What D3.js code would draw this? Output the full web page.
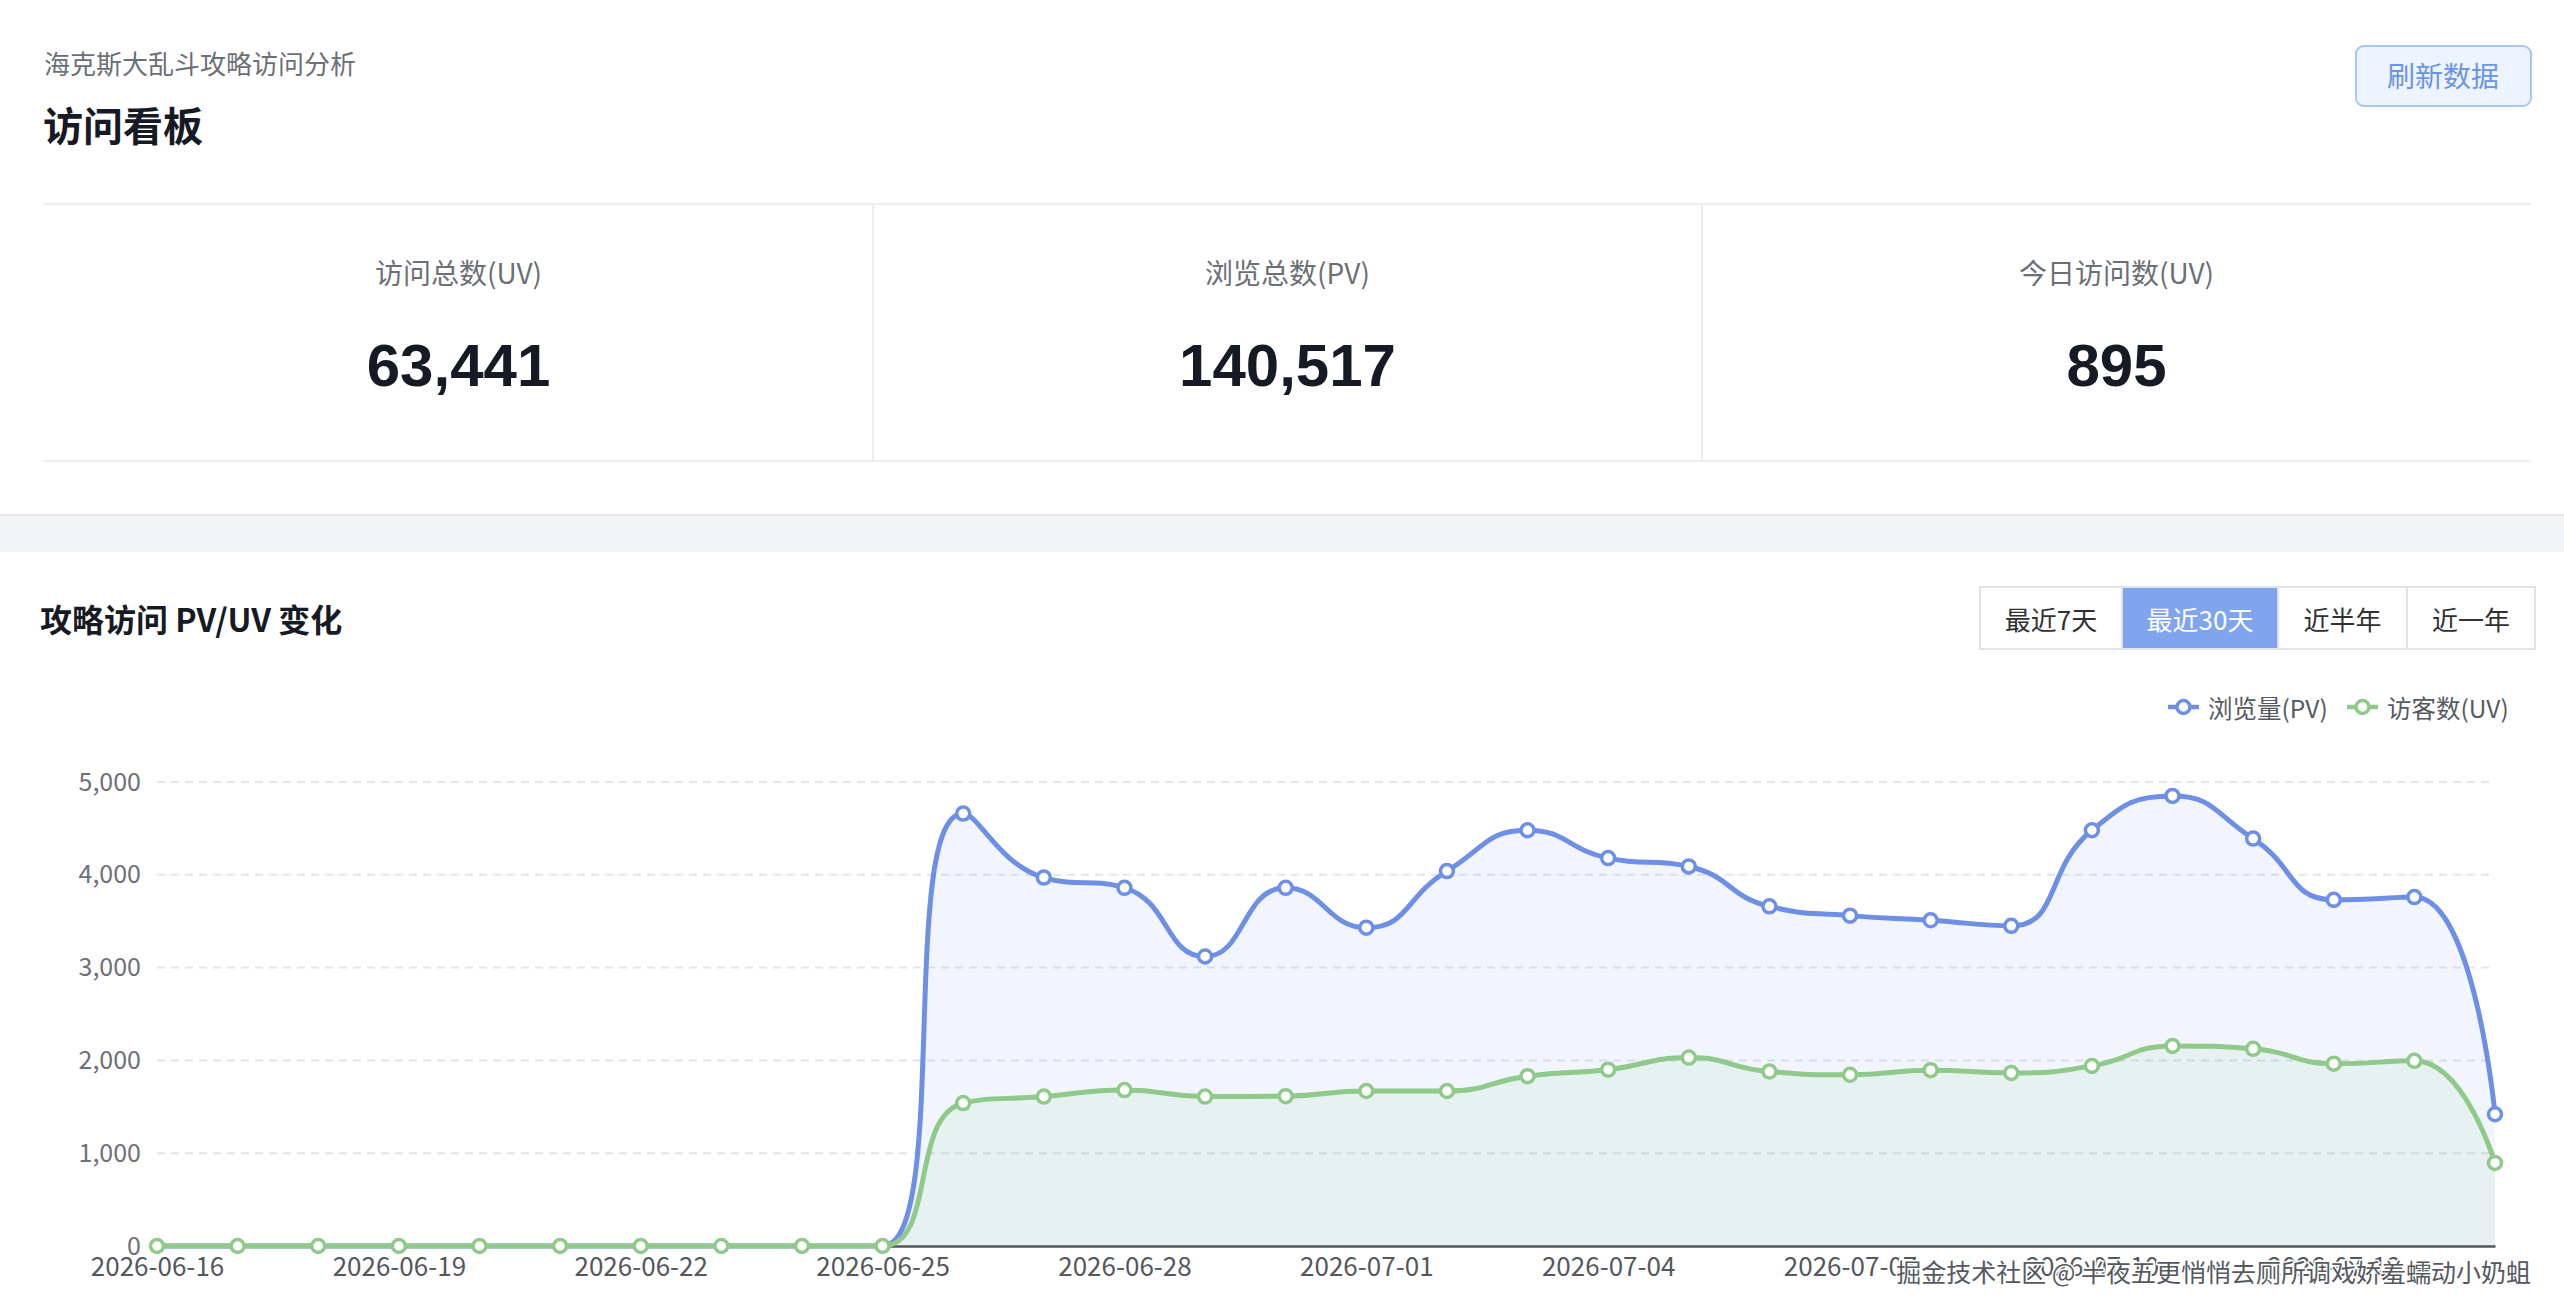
<!DOCTYPE html>
<html>
<head>
<meta charset="utf-8">
<script src="https://cdn.jsdelivr.net/npm/d3@7"></script>
<style>
  html, body { margin: 0; padding: 0; background: #fff; }
  svg { display: block; }
  text { font-family: "Noto Sans CJK SC", "Noto Sans", sans-serif; }
</style>
</head>
<body>
<svg id="page" width="2564" height="1316"></svg>
<script>
// ---- data ----
const pageSubtitle = "海克斯大乱斗攻略访问分析";
const pageTitle = "访问看板";
const statLabels = ["访问总数(UV)", "浏览总数(PV)", "今日访问数(UV)"];
const statValues = [63441, 140517, 895];
const rangeOptions = ["最近7天", "最近30天", "近半年", "近一年"];
const activeRange = "最近30天";
const seriesNames = ["浏览量(PV)", "访客数(UV)"];

const dates = [
  "2026-06-16", "2026-06-17", "2026-06-18", "2026-06-19", "2026-06-20",
  "2026-06-21", "2026-06-22", "2026-06-23", "2026-06-24", "2026-06-25",
  "2026-06-26", "2026-06-27", "2026-06-28", "2026-06-29", "2026-06-30",
  "2026-07-01", "2026-07-02", "2026-07-03", "2026-07-04", "2026-07-05",
  "2026-07-06", "2026-07-07", "2026-07-08", "2026-07-09", "2026-07-10",
  "2026-07-11", "2026-07-12", "2026-07-13", "2026-07-14", "2026-07-15"
];
const pvValues = [0, 0, 0, 0, 0, 0, 0, 0, 0, 0,
  4660, 3970, 3860, 3120, 3860, 3430, 4040, 4480, 4180, 4090,
  3660, 3560, 3510, 3450, 4480, 4850, 4390, 3730, 3760, 1420];
const uvValues = [0, 0, 0, 0, 0, 0, 0, 0, 0, 0,
  1540, 1610, 1680, 1610, 1615, 1670, 1670, 1830, 1900, 2030,
  1880, 1845, 1895, 1865, 1940, 2155, 2125, 1965, 1995, 895];
const yTicks = [0, 1000, 2000, 3000, 4000, 5000];
const watermark = "掘金技术社区 @ 半夜五更悄悄去厕所调戏娇羞蠕动小奶蛆";

// ---- colours ----
const pvColor = "#6e8fe6";
const uvColor = "#8fca8a";

const svg = d3.select("#page");
const W = 2564, H = 1316;
const fmt = d3.format(",");

svg.append("rect").attr("width", W).attr("height", H).attr("fill", "#fff");

// --------------------------------------------------
// header card
// --------------------------------------------------
svg.append("text").attr("x", 44).attr("y", 62)
  .attr("dominant-baseline", "central")
  .style("font-size", "26px").style("fill", "#6b6f76")
  .text(pageSubtitle);

svg.append("text").attr("x", 43).attr("y", 124)
  .attr("dominant-baseline", "central")
  .style("font-size", "40px").style("font-weight", 700).style("fill", "#161a25")
  .text(pageTitle);

// refresh button
svg.append("rect").attr("x", 2356).attr("y", 46).attr("width", 175).attr("height", 60)
  .attr("rx", 8).attr("fill", "#edf4ff").attr("stroke", "#a8c6f3").attr("stroke-width", 2);
svg.append("text").attr("x", 2443).attr("y", 75)
  .attr("text-anchor", "middle").attr("dominant-baseline", "central")
  .style("font-size", "28px").style("fill", "#6b93e6")
  .text("刷新数据");

// stat row
const statX = d3.scaleBand().domain(statLabels).range([44, 2531]);
svg.append("line").attr("x1", 44).attr("x2", 2531).attr("y1", 204).attr("y2", 204)
  .attr("stroke", "#ebedf1").attr("stroke-width", 2);
svg.append("line").attr("x1", 44).attr("x2", 2531).attr("y1", 461).attr("y2", 461)
  .attr("stroke", "#ebedf1").attr("stroke-width", 2);
svg.selectAll("line.divider")
  .data(statLabels.slice(1))
  .enter().append("line")
  .attr("class", "divider")
  .attr("x1", d => statX(d)).attr("x2", d => statX(d))
  .attr("y1", 205).attr("y2", 460)
  .attr("stroke", "#ebedf1").attr("stroke-width", 2);

svg.selectAll("text.stat-label")
  .data(statLabels)
  .enter().append("text")
  .attr("class", "stat-label")
  .attr("x", d => statX(d) + statX.bandwidth() / 2)
  .attr("y", 272)
  .attr("text-anchor", "middle").attr("dominant-baseline", "central")
  .style("font-size", "28px").style("fill", "#6b6f76")
  .text(d => d);

svg.selectAll("text.stat-value")
  .data(statValues)
  .enter().append("text")
  .attr("class", "stat-value")
  .attr("x", (d, i) => statX(statLabels[i]) + statX.bandwidth() / 2)
  .attr("y", 365)
  .attr("text-anchor", "middle").attr("dominant-baseline", "central")
  .style("font-family", "'Liberation Sans', Arial, sans-serif")
  .style("font-size", "60px").style("font-weight", 700).style("fill", "#161a25")
  .text(d => fmt(d));

// grey gap between cards
svg.append("rect").attr("x", 0).attr("y", 514).attr("width", W).attr("height", 37)
  .attr("fill", "#f2f3f5");
svg.append("line").attr("x1", 0).attr("x2", W).attr("y1", 515).attr("y2", 515)
  .attr("stroke", "#e3e5e9").attr("stroke-width", 2);
svg.append("line").attr("x1", 0).attr("x2", W).attr("y1", 551).attr("y2", 551)
  .attr("stroke", "#e9ebee").attr("stroke-width", 1);

// --------------------------------------------------
// chart card
// --------------------------------------------------
svg.append("text").attr("x", 40).attr("y", 618)
  .attr("dominant-baseline", "central")
  .style("font-size", "32px").style("font-weight", 700).style("fill", "#161a25")
  .text("攻略访问 PV/UV 变化");

// range switch
const segEdges = [1980, 2122, 2278, 2407, 2535];
const seg = svg.append("g");
seg.selectAll("rect")
  .data(rangeOptions)
  .enter().append("rect")
  .attr("x", (d, i) => segEdges[i]).attr("y", 587)
  .attr("width", (d, i) => segEdges[i + 1] - segEdges[i]).attr("height", 62)
  .attr("fill", d => d === activeRange ? "#7fa5f1" : "#fff")
  .attr("stroke", "#dfe2e8").attr("stroke-width", 2);
seg.selectAll("text")
  .data(rangeOptions)
  .enter().append("text")
  .attr("x", (d, i) => (segEdges[i] + segEdges[i + 1]) / 2).attr("y", 618)
  .attr("text-anchor", "middle").attr("dominant-baseline", "central")
  .style("font-size", "26px")
  .style("fill", d => d === activeRange ? "#fff" : "#303133")
  .text(d => d);

// legend
const legendItems = [
  { name: seriesNames[0], color: pvColor, x: 2168 },
  { name: seriesNames[1], color: uvColor, x: 2347 }
];
const legend = svg.selectAll("g.legend")
  .data(legendItems)
  .enter().append("g")
  .attr("class", "legend")
  .attr("transform", d => `translate(${d.x},707)`);
legend.append("line").attr("x1", 0).attr("x2", 31)
  .attr("stroke", d => d.color).attr("stroke-width", 4.5);
legend.append("circle").attr("cx", 15.5).attr("r", 6.5)
  .attr("fill", "#fff").attr("stroke", d => d.color).attr("stroke-width", 3.5);
legend.append("text").attr("x", 40).attr("dominant-baseline", "central")
  .style("font-size", "24.5px").style("fill", "#555a62")
  .text(d => d.name);

// plot
const margin = { left: 157, right: 2495, top: 782, bottom: 1246 };
const x = d3.scalePoint().domain(dates).range([margin.left, margin.right]);
const y = d3.scaleLinear().domain([0, 5000]).range([margin.bottom, margin.top]);

// smoothing in the style of echarts' "smooth: true" (0.5, with constraint)
function smoothPath(pts, path, smooth) {
  let cpx0, cpy0, px, py;
  const n = pts.length;
  for (let i = 0; i < n; i++) {
    const [xx, yy] = pts[i];
    if (i === 0) {
      path.moveTo(xx, yy);
      cpx0 = xx; cpy0 = yy;
    } else {
      let cpx1, cpy1, ncx, ncy;
      if (i === n - 1) {
        cpx1 = xx; cpy1 = yy; ncx = xx; ncy = yy;
      } else {
        const [nx, ny] = pts[i + 1];
        let vx = nx - px, vy = ny - py;
        const lp = Math.hypot(xx - px, yy - py);
        const ln = Math.hypot(nx - xx, ny - yy);
        const r = ln / (ln + lp);
        ncx = xx + vx * smooth * r;
        ncy = yy + vy * smooth * r;
        ncx = Math.max(Math.min(ncx, Math.max(nx, xx)), Math.min(nx, xx));
        ncy = Math.max(Math.min(ncy, Math.max(ny, yy)), Math.min(ny, yy));
        vx = ncx - xx; vy = ncy - yy;
        cpx1 = xx - vx * lp / ln;
        cpy1 = yy - vy * lp / ln;
        cpx1 = Math.max(Math.min(cpx1, Math.max(px, xx)), Math.min(px, xx));
        cpy1 = Math.max(Math.min(cpy1, Math.max(py, yy)), Math.min(py, yy));
        vx = xx - cpx1; vy = yy - cpy1;
        ncx = xx + vx * ln / lp;
        ncy = yy + vy * ln / lp;
      }
      path.bezierCurveTo(cpx0, cpy0, cpx1, cpy1, xx, yy);
      cpx0 = ncx; cpy0 = ncy;
    }
    px = xx; py = yy;
  }
  return path;
}

function linePath(series) {
  const pts = series.map(d => [x(d.date), y(d.value)]);
  return smoothPath(pts, d3.path(), 0.5).toString();
}
function areaPath(series) {
  const pts = series.map(d => [x(d.date), y(d.value)]);
  const p = smoothPath(pts, d3.path(), 0.5);
  p.lineTo(pts[pts.length - 1][0], y(0));
  p.lineTo(pts[0][0], y(0));
  p.closePath();
  return p.toString();
}

const plot = svg.append("g");

// grid
plot.selectAll("line.grid")
  .data(yTicks.filter(t => t > 0))
  .enter().append("line")
  .attr("class", "grid")
  .attr("x1", margin.left).attr("x2", margin.right)
  .attr("y1", d => y(d)).attr("y2", d => y(d))
  .attr("stroke", "#e2e5ec").attr("stroke-width", 2)
  .attr("stroke-dasharray", "8,6");

// y axis labels
const yAxis = d3.axisLeft(y).tickValues(yTicks).tickFormat(fmt).tickSize(0).tickPadding(16);
const yg = plot.append("g").attr("transform", `translate(${margin.left},0)`).call(yAxis);
yg.select(".domain").remove();
yg.selectAll("text")
  .style("font-family", "'Noto Sans CJK SC', sans-serif")
  .style("font-size", "25px").style("fill", "#6e7079");

const pvSeries = dates.map((d, i) => ({ date: d, value: pvValues[i] }));
const uvSeries = dates.map((d, i) => ({ date: d, value: uvValues[i] }));

plot.append("path").attr("d", areaPath(pvSeries))
  .attr("fill", pvColor).attr("fill-opacity", 0.09);
plot.append("path").attr("d", areaPath(uvSeries))
  .attr("fill", uvColor).attr("fill-opacity", 0.1);

// x axis
const labelDates = dates.filter((d, i) => i % 3 === 0);
const xAxis = d3.axisBottom(x).tickValues(labelDates).tickSize(0).tickPadding(12);
const xg = plot.append("g").attr("transform", `translate(0,${margin.bottom})`).call(xAxis);
xg.select(".domain").attr("stroke", "#54575e").attr("stroke-width", 2.5);
xg.selectAll("text")
  .style("font-family", "'Noto Sans CJK SC', sans-serif")
  .style("font-size", "26px").style("fill", "#54575e");

plot.append("path").attr("d", linePath(pvSeries))
  .attr("fill", "none").attr("stroke", pvColor).attr("stroke-width", 5);
plot.append("path").attr("d", linePath(uvSeries))
  .attr("fill", "none").attr("stroke", uvColor).attr("stroke-width", 5);

plot.selectAll("circle.pv")
  .data(pvSeries.filter(d => d.value > 0))
  .enter().append("circle")
  .attr("class", "pv")
  .attr("cx", d => x(d.date)).attr("cy", d => y(d.value)).attr("r", 6.5)
  .attr("fill", "#fff").attr("stroke", pvColor).attr("stroke-width", 3.5);
plot.selectAll("circle.uv")
  .data(uvSeries)
  .enter().append("circle")
  .attr("class", "uv")
  .attr("cx", d => x(d.date)).attr("cy", d => y(d.value)).attr("r", 6.5)
  .attr("fill", "#fff").attr("stroke", uvColor).attr("stroke-width", 3.5);

// watermark
svg.append("text").attr("x", 2531).attr("y", 1271)
  .attr("text-anchor", "end").attr("dominant-baseline", "central")
  .style("font-size", "25px").style("fill", "#55595f")
  .style("paint-order", "stroke").style("stroke", "#fff").style("stroke-width", "3px")
  .text(watermark);
</script>
</body>
</html>
